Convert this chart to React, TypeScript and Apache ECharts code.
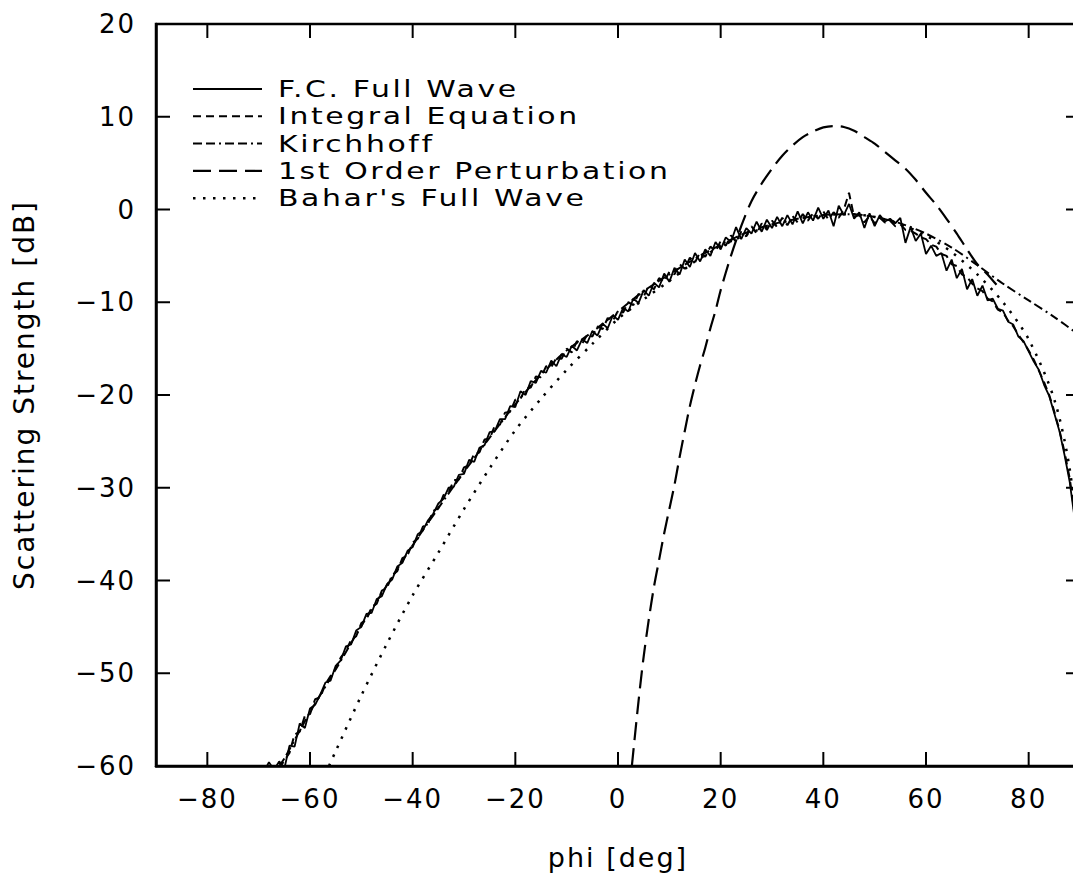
import React, { useEffect, useRef } from "react";
import * as echarts from "echarts";

const FONT = "'DejaVu Sans', Verdana, sans-serif";

const X_MIN = -90;
const X_MAX = 90;
const X_TICKS = [-80, -60, -40, -20, 0, 20, 40, 60, 80];
const Y_MIN = -60;
const Y_MAX = 20;
const Y_TICKS = [-50, -40, -30, -20, -10, 0, 10];

const LEGEND_NAMES = [
  "F.C. Full Wave",
  "Integral Equation",
  "Kirchhoff",
  "1st Order Perturbation",
  "Bahar's Full Wave",
];

// F.C. Full Wave, sampled each degree from -69 to 90
const FC_START = -69;
const fcValues = [
  -60.6, -59.6, -60.4, -59.5, -60.3, -57.8, -57.9, -55.4, -55.9, -53.8,
  -53.4, -52.3, -51.0, -50.8, -49.2, -48.6, -47.1, -46.9, -45.4, -45.0,
  -43.6, -43.5, -42.0, -41.7, -40.4, -39.9, -38.5, -38.1, -36.8, -36.4,
  -35.0, -34.6, -33.5, -32.8, -31.7, -31.2, -30.0, -29.9, -28.6, -28.5,
  -27.0, -27.2, -25.7, -25.4, -24.0, -23.9, -22.6, -22.6, -21.2, -21.3,
  -19.6, -20.0, -18.5, -18.7, -17.4, -17.6, -16.3, -16.9, -15.6, -15.9,
  -14.7, -15.2, -14.0, -14.4, -13.1, -13.6, -12.3, -12.8, -11.4, -11.9,
  -10.6, -11.0, -9.6, -10.1, -8.7, -9.3, -7.9, -8.4, -6.9, -7.8,
  -6.3, -7.0, -5.4, -6.2, -4.7, -5.6, -4.3, -5.0, -3.5, -4.3,
  -3.0, -3.5, -1.9, -3.2, -2.0, -2.6, -1.3, -2.4, -1.1, -2.0,
  -0.8, -1.8, -0.6, -1.6, -0.2, -1.5, -0.3, -1.2, 0.2, -1.0,
  -0.1, -1.8, 0.4, -0.6, 0.6, -1.0, -0.3, -2.0, -0.4, -1.8,
  -0.6, -1.3, -1.0, -1.5, -0.9, -3.6, -1.9, -3.4, -2.6, -4.8,
  -3.9, -5.0, -4.7, -6.6, -5.4, -7.4, -6.4, -8.6, -7.5, -9.3,
  -8.2, -9.8, -9.6, -10.7, -10.9, -12.1, -12.4, -13.7, -14.2, -15.3,
  -16.4, -17.3, -18.9, -20.1, -22.0, -23.9, -26.5, -29.4, -33.5, -40.0,
];

// Integral Equation, sampled each degree from -66 to 90
const IE_START = -66;
const ieValues = [
  -60.3, -59.4, -58.6, -56.6, -56.3, -54.6, -54.4, -52.8, -52.6, -51.2,
  -50.3, -49.5, -48.3, -47.6, -46.4, -46.0, -44.6, -44.2, -42.9, -42.5,
  -41.1, -40.8, -39.4, -39.0, -37.6, -37.3, -35.9, -35.5, -34.2, -33.9,
  -32.5, -32.2, -30.8, -30.5, -29.2, -29.1, -27.8, -27.6, -26.3, -26.2,
  -24.8, -24.7, -23.3, -23.2, -21.9, -21.8, -20.5, -20.4, -19.3, -19.2,
  -18.0, -18.1, -16.9, -17.0, -16.0, -16.1, -15.0, -15.4, -14.2, -14.5,
  -13.5, -13.7, -12.6, -12.9, -11.7, -12.0, -10.9, -11.1, -10.0, -10.3,
  -9.1, -9.4, -8.2, -8.6, -7.4, -7.8, -6.7, -7.0, -5.9, -6.4,
  -5.2, -5.7, -4.6, -5.1, -4.0, -4.5, -3.4, -3.9, -2.8, -3.5,
  -2.4, -2.9, -1.8, -2.6, -1.5, -2.2, -1.2, -1.9, -0.9, -1.7,
  -0.7, -1.4, -0.5, -1.2, -0.4, -1.0, -0.2, -1.1, -0.3, -0.9,
  0.0, 1.8, -0.8, -0.6, -1.4, -0.7, -1.5, -0.9, -1.4, -1.2,
  -1.8, -1.6, -2.2, -2.3, -2.6, -3.0, -3.2, -3.8, -4.0, -4.8,
  -5.0, -5.9, -6.1, -7.0, -7.3, -8.0, -8.5, -8.8, -9.6, -9.9,
  -10.8, -11.1, -12.0, -12.6, -13.5, -14.3, -15.2, -16.2, -17.4, -18.6,
  -20.0, -21.8, -23.8, -26.2, -29.0, -33.0, -39.0,
];

const kirchPhi = [-66, -65, -60, -55, -50, -45, -40, -35, -30, -25, -20, -15, -10, -5, 0, 5, 10, 15, 20, 25, 30, 35, 40, 45, 50, 55, 60, 65, 70, 75, 80, 85, 90];
const kirchValues = [-60, -59.2, -54.2, -49.6, -44.9, -40.5, -36.2, -32.2, -28.3, -24.6, -21.0, -17.8, -15.2, -13.2, -11.0, -8.8, -7.0, -5.3, -3.8, -2.5, -1.6, -1.0, -0.6, -0.5, -0.8, -1.5, -2.6, -4.1, -6.0, -8.0, -9.8, -11.6, -13.6];

const pertPhi = [2.7, 4, 5, 6, 7, 8, 9, 10, 11, 12, 13, 14, 15, 16, 17, 18, 19, 20, 22, 24, 26, 28, 30, 32, 34, 36, 38, 40, 42, 44, 46, 48, 50, 52, 54, 56, 58, 60, 62, 64, 66, 68, 70, 72, 74];
const pertValues = [-60, -53, -48.2, -44.2, -40.7, -37.8, -34.9, -32.3, -29.7, -26.7, -23.9, -21.2, -18.9, -16.8, -14.9, -12.8, -10.9, -8.7, -5.0, -1.8, 0.9, 2.8, 4.4, 5.8, 6.9, 7.8, 8.4, 8.85, 9.0, 8.9, 8.5, 7.8, 7.1, 6.2, 5.3, 4.4, 3.2, 1.8, 0.5, -1.0, -2.6, -4.3, -5.9, -7.0, -8.3];

const baharPhi = [-56.3, -55, -50, -45, -40, -35, -30, -25, -20, -15, -10, -5, 0, 5, 10, 15, 20, 25, 30, 35, 40, 45, 50, 55, 60, 65, 70, 75, 80, 85, 88, 90];
const baharValues = [-60, -58.4, -52.4, -46.8, -41.6, -37.0, -32.3, -27.9, -23.8, -20.4, -17.3, -14.5, -11.8, -9.7, -7.7, -5.6, -4.0, -2.7, -1.7, -1.0, -0.6, -0.5, -0.8, -1.6, -2.8, -4.6, -7.0, -10.0, -14.0, -20.5, -28.0, -38.0];

const DASHES: (number[] | null)[] = [null, [8, 5], [9, 4, 9, 4, 2, 4], [18, 8], [2.5, 7.5]];
const WIDTHS = [1.8, 2, 2, 2.2, 2.5];

const fmt = (v: number) => (v < 0 ? "\u2212" + Math.abs(v) : String(v));

function pairs(xs: number[], ys: number[]) {
  return ys.map((y, i) => [xs[i], y]);
}
function gridPairs(start: number, ys: number[]) {
  return ys.map((y, i) => [start + i, y]);
}

const TICK_LEN = 14;
const TICK_W = 2;

export default function App() {
  const ref = useRef<HTMLDivElement>(null);
  useEffect(() => {
    const chart = echarts.init(ref.current!, null, { renderer: "svg" });
    const datasets = [
      gridPairs(FC_START, fcValues),
      gridPairs(IE_START, ieValues),
      pairs(kirchPhi, kirchValues),
      pairs(pertPhi, pertValues),
      pairs(baharPhi, baharValues),
    ];
    const smoothFlags = [false, false, 0.3, 0.3, 0.3];
    const series: any[] = datasets.map((d, i) => ({
      type: "line",
      name: LEGEND_NAMES[i],
      data: d,
      showSymbol: false,
      symbol: "none",
      smooth: smoothFlags[i],
      lineStyle: {
        color: "#000",
        width: WIDTHS[i],
        type: DASHES[i] ? DASHES[i] : "solid",
      },
      z: 5 - i,
    }));

    // frame around the plot area
    series.push({
      type: "custom",
      name: "frame",
      data: [[X_MIN, Y_MIN]],
      encode: { x: 0, y: 1 },
      clip: false,
      silent: true,
      z: 10,
      renderItem: (_p: any, api: any) => {
        const tl = api.coord([X_MIN, Y_MAX]);
        const br = api.coord([X_MAX, Y_MIN]);
        return {
          type: "rect",
          shape: { x: tl[0], y: tl[1], width: br[0] - tl[0], height: br[1] - tl[1] },
          style: { fill: "none", stroke: "#000", lineWidth: 2.5 },
        };
      },
    });

    // x ticks: one item per tick, on bottom (Y_MIN) and top (Y_MAX) edges, pointing inward
    const xTickData: number[][] = [];
    X_TICKS.forEach((v) => {
      xTickData.push([v, Y_MIN]);
      xTickData.push([v, Y_MAX]);
    });
    series.push({
      type: "custom",
      name: "xticks",
      data: xTickData,
      encode: { x: 0, y: 1 },
      clip: false,
      silent: true,
      z: 11,
      renderItem: (_p: any, api: any) => {
        const x = api.value(0);
        const y = api.value(1);
        const p = api.coord([x, y]);
        const atBottom = y === Y_MIN;
        return {
          type: "rect",
          shape: {
            x: p[0] - TICK_W / 2,
            y: atBottom ? p[1] - TICK_LEN : p[1],
            width: TICK_W,
            height: TICK_LEN,
          },
          style: { fill: "#000" },
        };
      },
    });

    // y ticks: left (X_MIN) and right (X_MAX) edges, pointing inward
    const yTickData: number[][] = [];
    Y_TICKS.forEach((v) => {
      yTickData.push([X_MIN, v]);
      yTickData.push([X_MAX, v]);
    });
    series.push({
      type: "custom",
      name: "yticks",
      data: yTickData,
      encode: { x: 0, y: 1 },
      clip: false,
      silent: true,
      z: 11,
      renderItem: (_p: any, api: any) => {
        const x = api.value(0);
        const y = api.value(1);
        const p = api.coord([x, y]);
        const atLeft = x === X_MIN;
        return {
          type: "rect",
          shape: {
            x: atLeft ? p[0] : p[0] - TICK_LEN,
            y: p[1] - TICK_W / 2,
            width: TICK_LEN,
            height: TICK_W,
          },
          style: { fill: "#000" },
        };
      },
    });

    const legendTop = 89;
    const legendStep = 27.3;
    const legendGraphics: any[] = [];
    LEGEND_NAMES.forEach((name, i) => {
      const y = legendTop + i * legendStep;
      legendGraphics.push({
        type: "line",
        shape: { x1: 193, y1: y, x2: 262, y2: y },
        style: {
          stroke: "#000",
          lineWidth: WIDTHS[i],
          lineDash: DASHES[i] ? DASHES[i] : null,
        },
      });
      legendGraphics.push({
        type: "text",
        x: 278,
        y: y,
        scaleX: 1.3,
        style: {
          text: name,
          x: 0,
          y: 0,
          fill: "#000",
          fontSize: 23,
          fontFamily: FONT,
          textAlign: "left",
          textVerticalAlign: "middle",
        },
      });
    });

    chart.setOption({
      animation: false,
      backgroundColor: "#fff",
      grid: {
        left: 156,
        top: 24,
        width: 924,
        height: 742,
        containLabel: false,
        outerBoundsMode: "none",
      },
      xAxis: {
        type: "value",
        min: X_MIN,
        max: X_MAX,
        position: "bottom",
        axisLine: { show: true, onZero: false, lineStyle: { color: "#000", width: 2.5 } },
        axisTick: { show: false },
        axisLabel: {
          customValues: X_TICKS,
          formatter: fmt,
          color: "#000",
          fontSize: 26,
          fontFamily: FONT,
          margin: 20,
        },
        splitLine: { show: false },
        name: "phi [deg]",
        nameLocation: "middle",
        nameGap: 78,
        nameTextStyle: { color: "#000", fontSize: 27, fontFamily: FONT },
      },
      yAxis: {
        type: "value",
        min: Y_MIN,
        max: Y_MAX,
        interval: 10,
        position: "left",
        axisLine: { show: true, onZero: false, lineStyle: { color: "#000", width: 2.5 } },
        axisTick: { show: false },
        axisLabel: {
          formatter: fmt,
          color: "#000",
          fontSize: 26,
          fontFamily: FONT,
          margin: 20,
        },
        splitLine: { show: false },
        name: "Scattering Strength [dB]",
        nameLocation: "middle",
        nameGap: 118,
        nameRotate: 90,
        nameTextStyle: { color: "#000", fontSize: 28, fontFamily: FONT },
      },
      series,
      graphic: legendGraphics,
    });
    return () => chart.dispose();
  }, []);
  return (
    <div
      ref={ref}
      style={{
        position: "absolute",
        left: 0,
        top: 0,
        width: 1073,
        height: 879,
        background: "#fff",
        letterSpacing: "2px",
      }}
    />
  );
}
